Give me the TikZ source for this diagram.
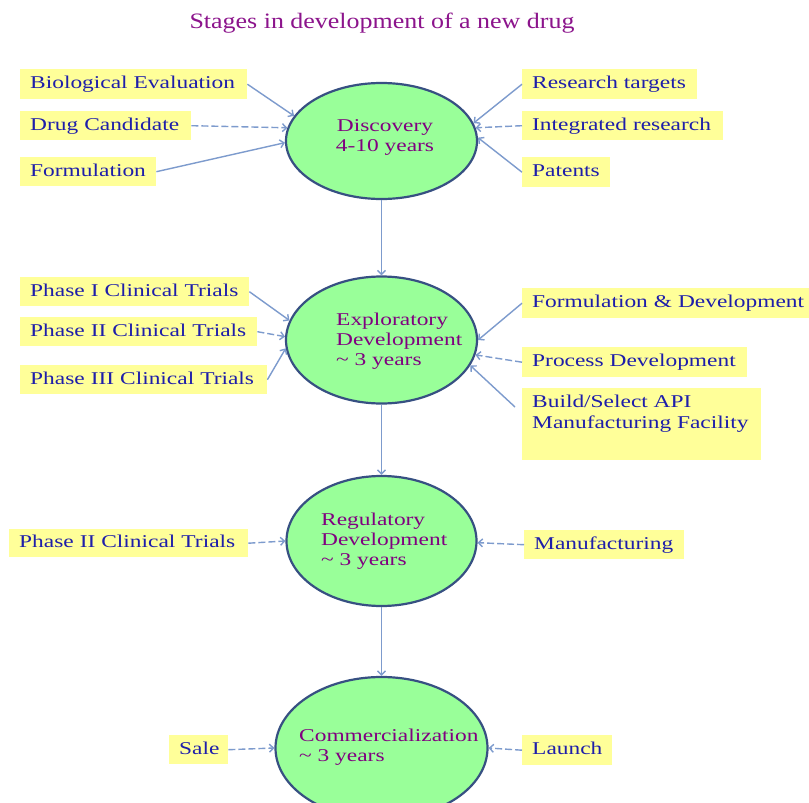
\documentclass[tikz,border=0pt]{standalone}
\usepackage{fontspec}
\setmainfont[FakeStretch=1.3]{Liberation Serif}
\newfontfamily\titlefont[FakeStretch=1.18]{Liberation Serif}
\usetikzlibrary{shapes.geometric,arrows.meta}
\definecolor{boxyellow}{RGB}{255,255,153}
\definecolor{ellgreen}{RGB}{153,255,153}
\definecolor{ellborder}{RGB}{55,80,130}
\definecolor{boxblue}{RGB}{30,30,170}
\definecolor{stagepurple}{RGB}{128,0,128}
\definecolor{titlepurple}{RGB}{140,20,140}
\definecolor{arrowblue}{RGB}{125,155,205}
\begin{document}
\begin{tikzpicture}[x=1pt,y=-1pt,
  ybox/.style={fill=boxyellow, anchor=north west, inner xsep=10pt, inner ysep=0pt,
    text=boxblue, font=\fontsize{18}{20.5}\selectfont, align=left,
    text height=13pt, text depth=4pt},
  stage/.style={ellipse, draw=ellborder, line width=2.2pt, fill=ellgreen, inner sep=0pt},
  stagetext/.style={text=stagepurple, font=\fontsize{18}{20.3}\selectfont, inner sep=0pt, align=left, anchor=north west},
  conn/.style={draw=arrowblue, line width=1.4pt, -{Straight Barb[length=4pt,width=8pt]}},
  dconn/.style={conn, dash pattern=on 7pt off 3pt}]
\useasboundingbox (0,0) rectangle (809,803);
\clip (0,0) rectangle (809,803);
\fill[white] (0,0) rectangle (809,803);

% title
\node[text=titlepurple, font=\titlefont\fontsize{22}{26}\selectfont, inner sep=0pt, anchor=base] (title) at (382,28) {Stages in development of a new drug};

% stages
\node[stage, minimum width=191pt, minimum height=116pt] (disc) at (381.5,141) {};
\node[stage, minimum width=191pt, minimum height=127pt] (expl) at (381.5,340) {};
\node[stage, minimum width=190pt, minimum height=130pt] (reg) at (381.5,541) {};
\node[stage, minimum width=212pt, minimum height=142pt] (comm) at (381.5,748) {};

\node[stagetext, align=center, anchor=north] (disctext) at (385,119) {Discovery\\4-10 years};
\node[stagetext] (expltext) at (336,312.7) {Exploratory\\Development\\\textasciitilde\ 3 years};
\node[stagetext] (regtext) at (321,512.7) {Regulatory\\Development\\\textasciitilde\ 3 years};
\node[stagetext] (commtext) at (299,728.4) {Commercialization\\\textasciitilde\ 3 years};

% boxes, discovery
\node[ybox, text width=207pt, minimum height=30pt] (bio) at (20,69) {Biological Evaluation};
\node[ybox, text width=151pt, minimum height=29pt] (drug) at (20,111) {Drug Candidate};
\node[ybox, text width=116pt, minimum height=29pt] (form) at (20,157) {Formulation};
\node[ybox, text width=155pt, minimum height=30pt] (research) at (522,69) {Research targets};
\node[ybox, text width=181pt, minimum height=29pt] (integ) at (522,111) {Integrated research};
\node[ybox, text width=68pt, minimum height=30pt] (patents) at (522,157) {Patents};

% boxes, exploratory
\node[ybox, text width=209pt, minimum height=29pt] (ph1) at (20,277) {Phase I Clinical Trials};
\node[ybox, text width=217pt, minimum height=29pt] (ph2) at (20,317) {Phase II Clinical Trials};
\node[ybox, text width=227pt, minimum height=29pt] (ph3) at (20,365) {Phase III Clinical Trials};
\node[ybox, text width=290pt, minimum height=30pt] (formdev) at (522,288) {Formulation \& Development};
\node[ybox, text width=205pt, minimum height=30pt] (process) at (522,347) {Process Development};
\node[ybox, text width=219pt, minimum height=72pt] (build) at (522,388) {};
\node[text=boxblue, font=\fontsize{18}{20.5}\selectfont, align=left, anchor=north west, inner sep=0pt] (buildtext) at (532,395) {Build/Select API\\Manufacturing Facility};
\coordinate (buildin) at (515,407);

% boxes, regulatory
\node[ybox, text width=219pt, minimum height=28pt] (ph2b) at (9,529) {Phase II Clinical Trials};
\node[ybox, text width=140pt, minimum height=29pt] (manu) at (524,530) {Manufacturing};

% boxes, commercialization
\node[ybox, text width=39pt, minimum height=29pt] (sale) at (169,735) {Sale};
\node[ybox, text width=70pt, minimum height=30pt] (launch) at (522,735) {Launch};

% connectors
\draw[conn] (bio.east) -- (disc.164);
\draw[dconn] (drug.east) -- (disc.172);
\draw[conn] (form.east) -- (disc.181);
\draw[conn] (research.west) -- (disc.11);
\draw[dconn] (integ.west) -- (disc.8);
\draw[conn] (patents.west) -- (disc.2);

\draw[conn] (disc.south) -- (expl.north);
\draw[conn] (ph1.east) -- (expl.168);
\draw[dconn] (ph2.east) -- (expl.178);
\draw[conn] (ph3.east) -- (expl.185);
\draw[conn] (formdev.west) -- (expl.0);
\draw[dconn] (process.west) -- (expl.351);
\draw[conn] (buildin) -- (expl.344);

\draw[conn] (expl.south) -- (reg.north);
\draw[dconn] (ph2b.east) -- (reg.180);
\draw[dconn] (manu.west) -- (reg.359);

\draw[conn] (reg.south) -- (comm.north);
\draw[dconn] (sale.east) -- (comm.180);
\draw[dconn] (launch.west) -- (comm.0);
\end{tikzpicture}
\end{document}
